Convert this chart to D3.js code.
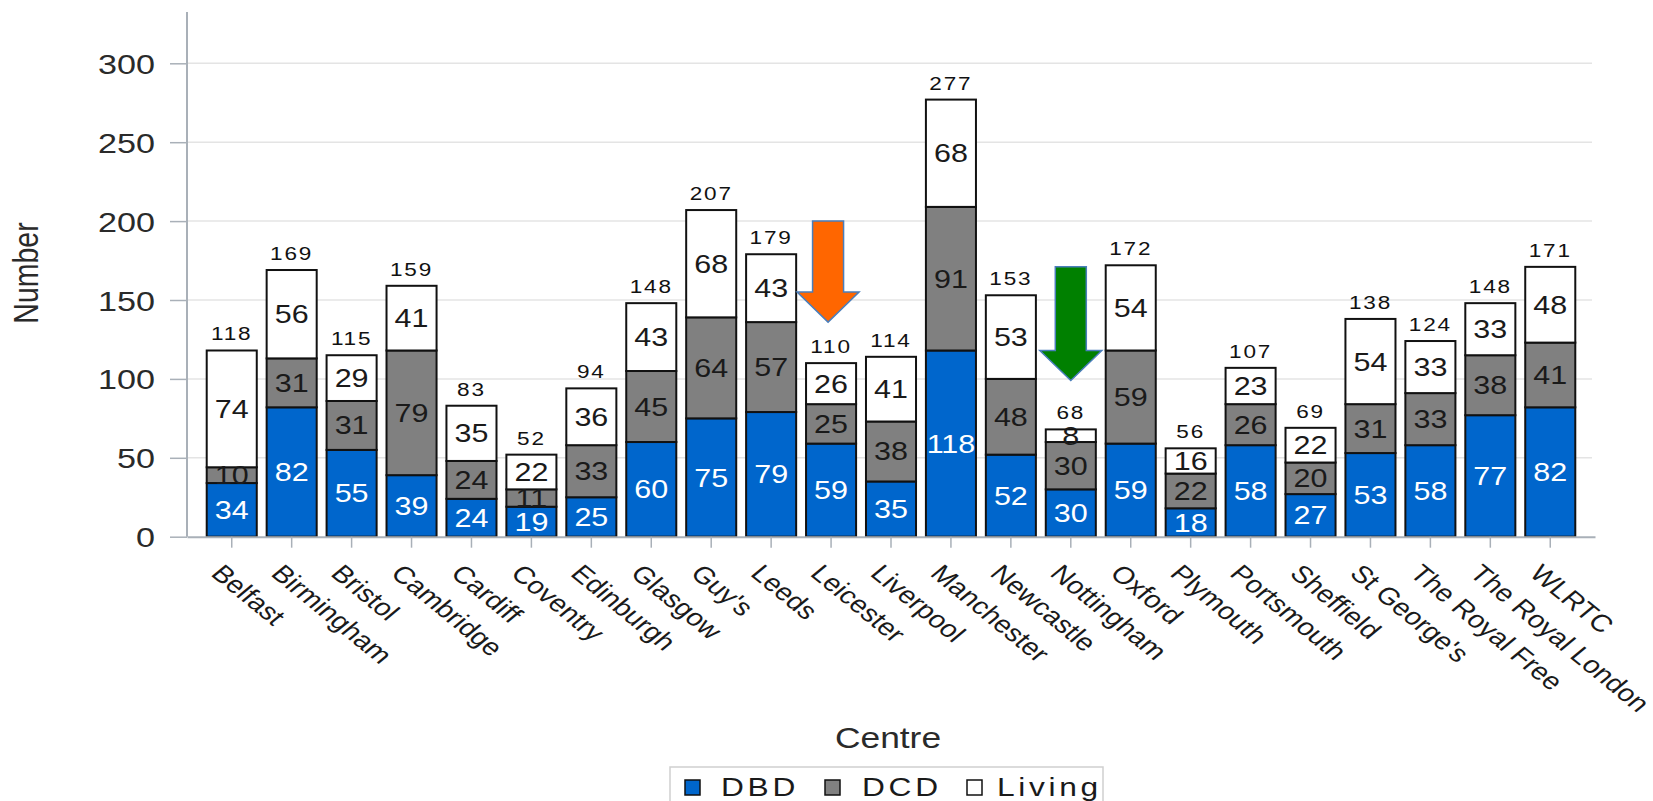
<!DOCTYPE html>
<html>
<head>
<meta charset="utf-8">
<script src="https://cdn.jsdelivr.net/npm/d3@7"></script>
<style>
  body { margin: 0; background: #fff; }
  svg { display: block; }
  text { font-family: "Liberation Sans", Arial, sans-serif; }
</style>
</head>
<body>
<svg id="chart" width="1653" height="801"></svg>
<script>
// Transplant outcomes by centre: deceased after brain death, after circulatory death, and living donors
const centres = ["Belfast", "Birmingham", "Bristol", "Cambridge", "Cardiff", "Coventry", "Edinburgh",
  "Glasgow", "Guy's", "Leeds", "Leicester", "Liverpool", "Manchester", "Newcastle", "Nottingham",
  "Oxford", "Plymouth", "Portsmouth", "Sheffield", "St George's", "The Royal Free", "The Royal London", "WLRTC"];
const dbd    = [34, 82, 55, 39, 24, 19, 25, 60, 75, 79, 59, 35, 118, 52, 30, 59, 18, 58, 27, 53, 58, 77, 82];
const dcd    = [10, 31, 31, 79, 24, 11, 33, 45, 64, 57, 25, 38, 91, 48, 30, 59, 22, 26, 20, 31, 33, 38, 41];
const living = [74, 56, 29, 41, 35, 22, 36, 43, 68, 43, 26, 41, 68, 53, 8, 54, 16, 23, 22, 54, 33, 33, 48];
const seriesNames = ["DBD", "DCD", "Living"];
const yTicks = [0, 50, 100, 150, 200, 250, 300];
// Highlight arrows: centre, start value and tip value on the y scale
const arrowCentres = ["Leicester", "Nottingham"];
const arrowFrom = [200, 171];
const arrowTo = [136, 99];

// ---- styling ----
const seriesFill = { DBD: "#0066cc", DCD: "#808080", Living: "#ffffff" };
const seriesText = { DBD: "#ffffff", DCD: "#1a1a1a", Living: "#1a1a1a" };
const arrowFill = ["#ff6600", "#008000"];
const SX = 1.22;           // horizontal glyph stretch used across the chart text
const axisColor = "#a9b0b8";

const svg = d3.select("#chart");
const left = 187, right = 1595, bottom = 536.7, top300 = 63.3, axisTop = 12;

const x = d3.scaleBand().domain(centres).range([left, right])
  .paddingInner(0.165).paddingOuter(0.329);
const y = d3.scaleLinear().domain([0, 300]).range([bottom, top300]);

const rows = centres.map((c, i) => ({ centre: c, DBD: dbd[i], DCD: dcd[i], Living: living[i] }));
const stacked = d3.stack().keys(seriesNames)(rows);

// gridlines
svg.append("g").selectAll("line").data(yTicks.filter(t => t > 0)).join("line")
  .attr("x1", left).attr("x2", right - 3)
  .attr("y1", d => y(d)).attr("y2", d => y(d))
  .attr("stroke", "#e4e4e4").attr("stroke-width", 1.5);

// y axis
const yAxis = svg.append("g").attr("transform", `translate(${left},0)`)
  .call(d3.axisLeft(y).tickValues(yTicks).tickSize(17).tickSizeOuter(0));
yAxis.select(".domain").remove();
yAxis.selectAll(".tick line").attr("stroke", axisColor).attr("stroke-width", 1.5);
yAxis.selectAll(".tick text")
  .attr("x", 0).attr("dy", "0.36em")
  .attr("transform", `translate(-32,0) scale(${SX},1)`)
  .attr("fill", "#2a2a2a").style("font-size", "28px").style("text-anchor", "end");
svg.append("line").attr("x1", left).attr("x2", left)
  .attr("y1", axisTop).attr("y2", bottom)
  .attr("stroke", axisColor).attr("stroke-width", 2);

// stacked bars
const layer = svg.append("g").selectAll("g").data(stacked).join("g")
  .attr("fill", d => seriesFill[d.key]);
layer.selectAll("rect").data(d => d).join("rect")
  .attr("x", d => x(d.data.centre))
  .attr("width", x.bandwidth())
  .attr("y", d => y(d[1]))
  .attr("height", d => y(d[0]) - y(d[1]))
  .attr("stroke", "#111").attr("stroke-width", 2);

// segment value labels
svg.append("g").selectAll("g").data(stacked).join("g")
  .attr("fill", d => seriesText[d.key])
  .selectAll("text").data(d => d).join("text")
  .attr("transform", d => `translate(${x(d.data.centre) + x.bandwidth() / 2},${(y(d[0]) + y(d[1])) / 2}) scale(${SX},1)`)
  .attr("dy", "0.36em")
  .style("text-anchor", "middle").style("font-size", "25px")
  .text(d => d[1] - d[0]);

// totals above bars
svg.append("g").selectAll("text").data(rows).join("text")
  .attr("transform", d => `translate(${x(d.centre) + x.bandwidth() / 2},${y(d.DBD + d.DCD + d.Living) - 10}) scale(${SX},1)`)
  .style("text-anchor", "middle").style("font-size", "18.5px").style("letter-spacing", "1.5px")
  .attr("fill", "#111")
  .text(d => d.DBD + d.DCD + d.Living);

// x axis
const xAxis = svg.append("g").attr("transform", `translate(0,${bottom})`)
  .call(d3.axisBottom(x).tickSize(11).tickSizeOuter(0));
xAxis.select(".domain").attr("stroke", axisColor).attr("stroke-width", 2);
xAxis.selectAll(".tick line").attr("stroke", axisColor).attr("stroke-width", 1.5);
xAxis.selectAll(".tick text")
  .attr("x", 0).attr("y", 0).attr("dy", 0)
  .attr("transform", `translate(-22,38) scale(${SX},1) rotate(45)`)
  .attr("fill", "#1a1a1a").style("font-size", "24px").style("text-anchor", "start");

// axis titles
svg.append("text")
  .attr("transform", `translate(38,273) scale(${SX},1) rotate(-90)`)
  .style("text-anchor", "middle").style("font-size", "28.5px").attr("fill", "#2a2a2a")
  .text("Number");
svg.append("text")
  .attr("transform", `translate(888,748) scale(${SX},1)`)
  .style("text-anchor", "middle").style("font-size", "29px").attr("fill", "#2a2a2a")
  .text("Centre");

// highlight arrows
const shaftHalf = 15.5, headHalf = 31, headLen = 30;
svg.append("g").selectAll("path").data(arrowCentres).join("path")
  .attr("d", (c, i) => {
    const cx = x(c) + x.bandwidth() / 2 + (i === 0 ? -3 : 0);
    const y0 = y(arrowFrom[i]), y1 = y(arrowTo[i]), yh = y1 - headLen;
    return `M${cx - shaftHalf},${y0} L${cx + shaftHalf},${y0} L${cx + shaftHalf},${yh} L${cx + headHalf},${yh}` +
      ` L${cx},${y1} L${cx - headHalf},${yh} L${cx - shaftHalf},${yh} Z`;
  })
  .attr("fill", (c, i) => arrowFill[i])
  .attr("stroke", "#4a7ebb").attr("stroke-width", 1.5);

// legend
const legend = svg.append("g");
legend.append("rect").attr("x", 670).attr("y", 767).attr("width", 433).attr("height", 50)
  .attr("fill", "#fff").attr("stroke", "#cfcfcf").attr("stroke-width", 1.5);
const legendSwatchX = [685, 825, 967];
const legendTextX = [721, 862, 997];
const item = legend.selectAll("g.item").data(seriesNames).join("g").attr("class", "item");
item.append("rect")
  .attr("x", (d, i) => legendSwatchX[i]).attr("y", 780)
  .attr("width", 15).attr("height", 15)
  .attr("fill", d => seriesFill[d]).attr("stroke", "#111").attr("stroke-width", 1.5);
item.append("text")
  .attr("transform", (d, i) => `translate(${legendTextX[i]},796) scale(${SX},1)`)
  .style("font-size", "26px").style("letter-spacing", "3px").attr("fill", "#1a1a1a")
  .text(d => d);
</script>
</body>
</html>
